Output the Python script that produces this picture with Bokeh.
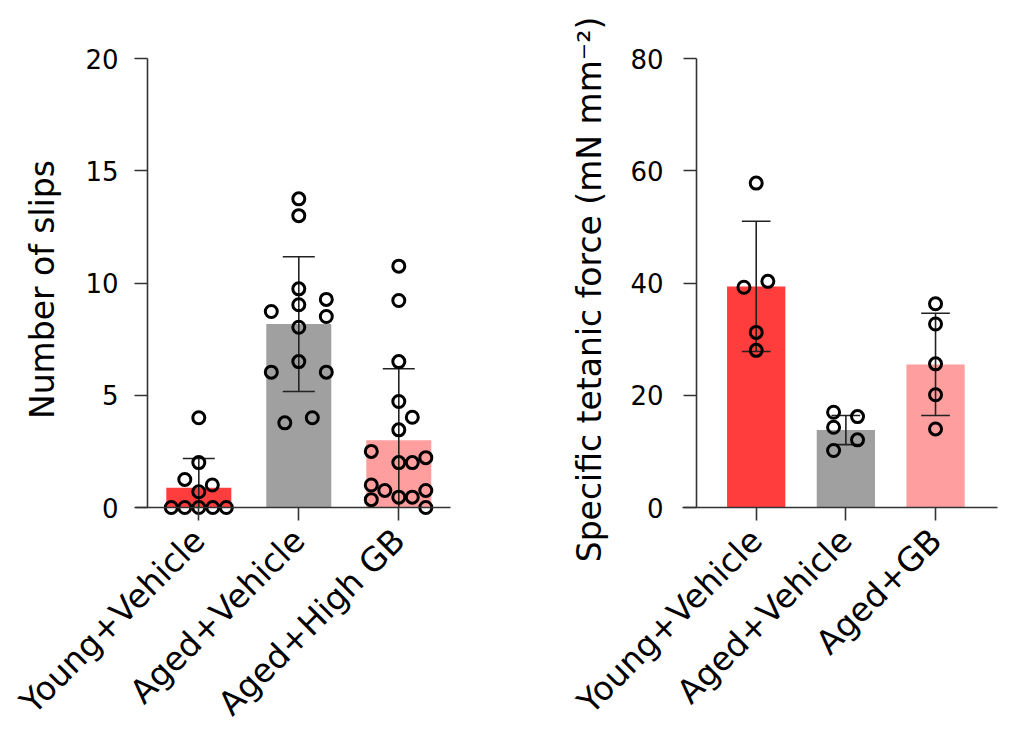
import numpy as np
from math import pi
from bokeh.plotting import figure
from bokeh.layouts import row
from bokeh.models import FixedTicker, Range1d, LinearAxis
from bokeh.embed import file_html
from bokeh.resources import INLINE

# ---------------- data: left panel (number of slips) ----------------
slip_groups = ["Young+Vehicle", "Aged+Vehicle", "Aged+High GB"]
slip_means = [0.88, 8.17, 3.0]
slip_sd = [1.3, 3.0, 3.18]
slip_young = [4.0, 2.0, 1.25, 1.0, 0.7, 0.0, 0.0, 0.0, 0.0, 0.0]
slip_young_off = [0.0, 0.0, -0.14, 0.135, 0.0, -0.275, -0.14, 0.0, 0.14, 0.275]
slip_aged = [13.75, 13.0, 9.74, 9.27, 9.03, 8.73, 8.51, 8.03, 6.5, 6.03, 6.03, 4.0, 3.77]
slip_aged_off = [0.0, 0.0, 0.0, 0.275, 0.0, -0.275, 0.275, 0.0, 0.0, -0.275, 0.275, 0.135, -0.14]
slip_gb = [10.75, 9.22, 6.5, 4.72, 4.02, 3.46, 2.5, 2.0, 2.0, 2.22, 1.0, 0.76, 0.46, 0.46, 0.76, 0.35, 0.0]
slip_gb_off = [0.0, 0.0, 0.0, 0.0, 0.135, 0.0, -0.275, 0.0, 0.135, 0.27, -0.275, -0.14, 0.0, 0.135, 0.27, -0.275, 0.27]
slip_yticks = [0, 5, 10, 15, 20]

# ---------------- data: right panel (specific tetanic force) ----------------
force_groups = ["Young+Vehicle", "Aged+Vehicle", "Aged+GB"]
force_means = [39.4, 13.8, 25.5]
force_sd = [11.6, 2.6, 9.1]
force_young = [57.8, 40.3, 39.25, 31.2, 28.0]
force_young_off = [0.0, 0.13, -0.137, 0.0, 0.0]
force_aged = [16.98, 16.2, 14.3, 12.06, 10.16]
force_aged_off = [-0.137, 0.13, -0.137, 0.13, -0.137]
force_gb = [36.3, 32.7, 25.6, 20.1, 14.0]
force_gb_off = [0.0, 0.0, 0.0, 0.0, 0.0]
force_yticks = [0, 20, 40, 60, 80]

bar_colors = ["#FF3D3D", "#A0A0A0", "#FF9E9E"]
FONT = "DejaVu Sans"
AXIS_COLOR = "#333333"


def panel(groups, means, sds, points, offsets, ylabel, yticks, xr, yr,
          x_bounds, y_loc, label_size, mb_left, mb_right,
          ylab_standoff, yaxis_label_standoff):
    p = figure(frame_width=327, frame_height=466,
               x_range=Range1d(*xr), y_range=Range1d(*yr),
               x_axis_location=None, y_axis_location=None,
               output_backend="svg", toolbar_location=None,
               min_border_left=mb_left, min_border_right=mb_right,
               min_border_top=56, min_border_bottom=225)
    p.outline_line_color = None
    p.xgrid.visible = False
    p.ygrid.visible = False
    p.background_fill_color = "white"

    xs = np.arange(len(groups), dtype=float)
    means = np.array(means, dtype=float)
    sds = np.array(sds, dtype=float)

    # bars
    p.vbar(x=xs, top=means, bottom=0, width=0.65, fill_color=bar_colors,
           line_color=None)

    # error bars (lower part clipped at 0 like the reference)
    up = means + sds
    lo = np.maximum(means - sds, 0.0)
    p.segment(x0=xs, y0=lo, x1=xs, y1=up, line_color="#222222", line_width=1.6)
    cap = 0.16
    p.segment(x0=xs - cap, y0=up, x1=xs + cap, y1=up, line_color="#222222", line_width=1.6)
    has_lo = (means - sds) > 0
    p.segment(x0=(xs - cap)[has_lo], y0=lo[has_lo], x1=(xs + cap)[has_lo], y1=lo[has_lo],
              line_color="#222222", line_width=1.6)

    # individual points
    for i, (vals, offs) in enumerate(zip(points, offsets)):
        px = i + np.array(offs, dtype=float)
        p.scatter(x=px, y=vals, marker="circle", size=12, fill_color=None,
                  line_color="black", line_width=3.0)

    xticks = list(range(len(groups)))

    # --- label-only axes at the frame edges ---
    xl = LinearAxis(ticker=FixedTicker(ticks=xticks),
                    major_label_overrides={i: g for i, g in enumerate(groups)},
                    major_label_orientation=pi / 4,
                    axis_line_color=None, major_tick_line_color=None,
                    minor_tick_line_color=None, major_tick_out=0, major_tick_in=0,
                    major_label_text_font=FONT, major_label_text_font_size="33px",
                    major_label_text_color="black", major_label_standoff=12)
    p.add_layout(xl, "below")

    yl = LinearAxis(ticker=FixedTicker(ticks=yticks),
                    axis_line_color=None, major_tick_line_color=None,
                    minor_tick_line_color=None, major_tick_out=0, major_tick_in=0,
                    major_label_text_font=FONT, major_label_text_font_size="26px",
                    major_label_text_color="black", major_label_standoff=ylab_standoff,
                    axis_label=ylabel, axis_label_text_font=FONT,
                    axis_label_text_font_size=label_size,
                    axis_label_text_font_style="normal",
                    axis_label_text_color="black",
                    axis_label_standoff=yaxis_label_standoff)
    p.add_layout(yl, "left")

    # --- line/tick axes at fixed data locations ---
    common = dict(major_tick_out=13, major_tick_in=0, minor_tick_line_color=None,
                  axis_line_color=AXIS_COLOR, axis_line_width=1.6,
                  major_tick_line_color=AXIS_COLOR, major_tick_line_width=1.6,
                  major_label_text_alpha=0.0, major_label_text_font_size="1px",
                  major_label_standoff=0)
    xf = LinearAxis(fixed_location=0, bounds=x_bounds,
                    ticker=FixedTicker(ticks=xticks), **common)
    p.add_layout(xf, "below")
    yf = LinearAxis(fixed_location=y_loc, bounds=(yticks[0], yticks[-1]),
                    ticker=FixedTicker(ticks=yticks), **common)
    p.add_layout(yf, "left")
    return p


left = panel(slip_groups, slip_means, slip_sd,
             [slip_young, slip_aged, slip_gb],
             [slip_young_off, slip_aged_off, slip_gb_off],
             "Number of slips", slip_yticks,
             xr=(-0.703, 2.567), yr=(-0.668, 20.09),
             x_bounds=(-0.633, 2.517), y_loc=-0.513,
             label_size="33px", mb_left=128, mb_right=85,
             ylab_standoff=10, yaxis_label_standoff=20)

right = panel(force_groups, force_means, force_sd,
              [force_young, force_aged, force_gb],
              [force_young_off, force_aged_off, force_gb_off],
              "Specific tetanic force (mN mm\u207b\u00b2)", force_yticks,
              xr=(-0.889, 2.758), yr=(-2.67, 80.36),
              x_bounds=(-0.822, 2.691), y_loc=-0.666,
              label_size="33px", mb_left=136, mb_right=8,
              ylab_standoff=13, yaxis_label_standoff=18)

layout = row(left, right)
open("out.html", "w").write(file_html(layout, INLINE))
